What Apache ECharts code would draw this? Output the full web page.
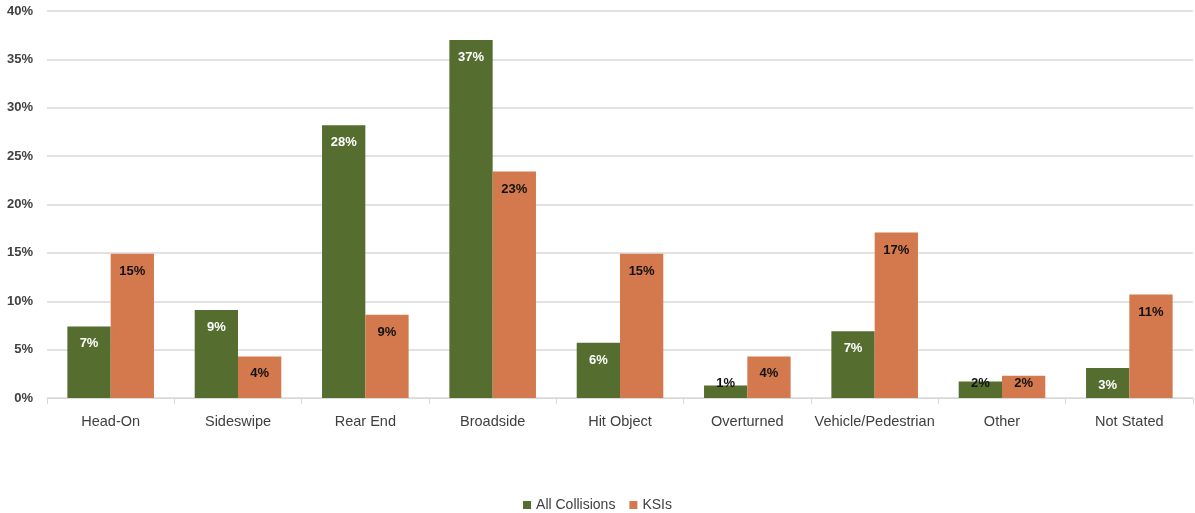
<!DOCTYPE html>
<html>
<head>
<meta charset="utf-8">
<script src="https://cdn.jsdelivr.net/npm/echarts@6/dist/echarts.min.js"></script>
<style>
  html, body { margin: 0; padding: 0; background: #fff; }
  #chart { width: 1195px; height: 513px; }
</style>
</head>
<body>
<div id="chart"></div>
<script>
// Collision types and the share of each (percent)
const categories = ['Head-On', 'Sideswipe', 'Rear End', 'Broadside', 'Hit Object', 'Overturned', 'Vehicle/Pedestrian', 'Other', 'Not Stated'];
const allCollisions = [7.4, 9.1, 28.2, 37.0, 5.7, 1.3, 6.9, 1.7, 3.1];
const ksis = [14.9, 4.3, 8.6, 23.4, 14.9, 4.3, 17.1, 2.3, 10.7];
const yTicks = [0, 5, 10, 15, 20, 25, 30, 35, 40];

const GREEN = '#556D2F';
const ORANGE = '#D4794D';
const FONT = '"Liberation Sans", "DejaVu Sans", sans-serif';

// Bars too short to hold a label get a dark label sitting on the axis
function buildData(values) {
  return values.map(v => {
    const item = { value: v };
    if (v < 3) {
      item.label = { position: 'insideBottom', distance: 8, color: '#111' };
    }
    return item;
  });
}

const chart = echarts.init(document.getElementById('chart'));
chart.setOption({
  animation: false,
  textStyle: { fontFamily: FONT },
  grid: { left: 47, right: 2, top: 11, bottom: 115, containLabel: false },
  legend: {
    top: 493,
    left: 'center',
    itemWidth: 8,
    itemHeight: 8,
    itemGap: 14,
    icon: 'rect',
    textStyle: { fontFamily: FONT, fontSize: 14, color: '#404040' },
    data: ['All Collisions', 'KSIs']
  },
  xAxis: {
    type: 'category',
    data: categories,
    axisLine: { lineStyle: { color: '#d9d9d9', width: 1 } },
    axisTick: { show: true, length: 6, lineStyle: { color: '#d9d9d9' } },
    axisLabel: { color: '#404040', fontSize: 14.5, margin: 16, fontFamily: FONT, interval: 0 }
  },
  yAxis: {
    type: 'value',
    min: yTicks[0],
    max: yTicks[yTicks.length - 1],
    interval: 5,
    axisLine: { show: false },
    axisTick: { show: false },
    splitLine: { lineStyle: { color: '#d9d9d9', width: 1.5 } },
    axisLabel: {
      color: '#404040', fontSize: 13, fontWeight: 'bold', margin: 14, fontFamily: FONT,
      formatter: v => v + '%'
    }
  },
  series: [
    {
      name: 'All Collisions',
      type: 'bar',
      data: buildData(allCollisions),
      itemStyle: { color: GREEN },
      barGap: '0%',
      barCategoryGap: '32%',
      label: {
        show: true,
        position: 'insideTop',
        distance: 11,
        color: '#fff',
        fontSize: 13,
        fontWeight: 'bold',
        fontFamily: FONT,
        formatter: p => Math.round(p.value) + '%'
      }
    },
    {
      name: 'KSIs',
      type: 'bar',
      data: buildData(ksis),
      itemStyle: { color: ORANGE },
      barGap: '0%',
      barCategoryGap: '32%',
      label: {
        show: true,
        position: 'insideTop',
        distance: 11,
        color: '#111',
        fontSize: 13,
        fontWeight: 'bold',
        fontFamily: FONT,
        formatter: p => Math.round(p.value) + '%'
      }
    }
  ]
});
</script>
</body>
</html>
